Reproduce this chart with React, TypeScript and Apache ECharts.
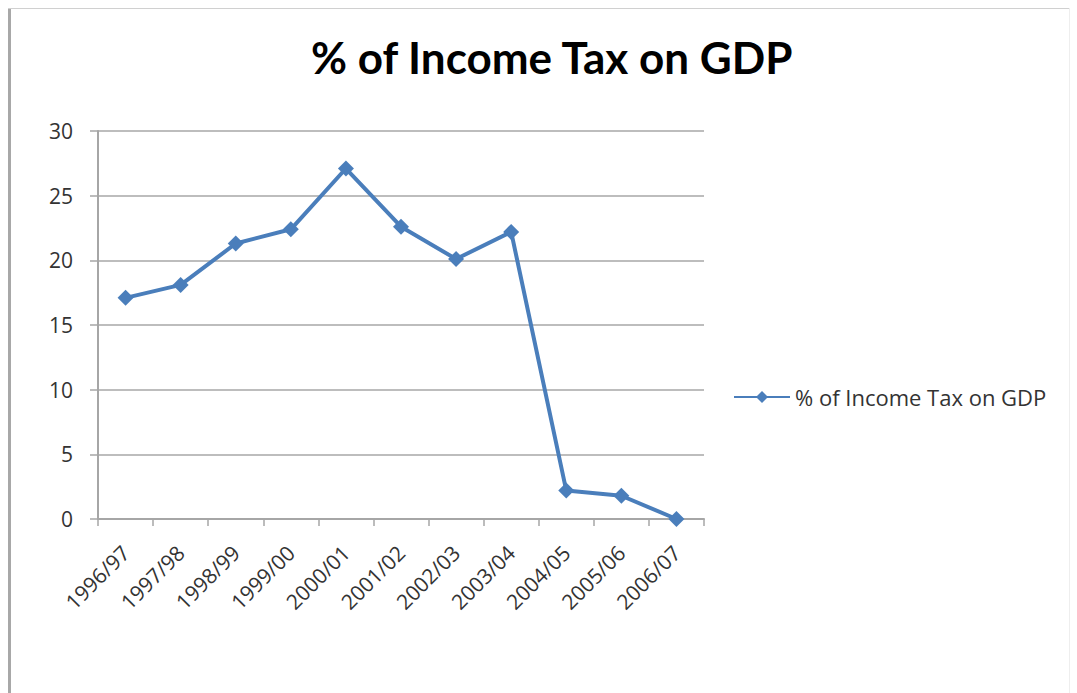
import React, { useEffect, useRef } from "react";
import * as echarts from "echarts";

const categories = ["1996/97", "1997/98", "1998/99", "1999/00", "2000/01", "2001/02", "2002/03", "2003/04", "2004/05", "2005/06", "2006/07"];
const values = [17.1, 18.1, 21.3, 22.4, 27.1, 22.6, 20.1, 22.2, 2.2, 1.8, 0];
const seriesName = "% of Income Tax on GDP";
const chartTitle = "% of Income Tax on GDP";

export default function App() {
  const ref = useRef<HTMLDivElement>(null);
  useEffect(() => {
    if (!ref.current) return;
    const chart = echarts.init(ref.current, null, { renderer: "svg" });
    const font = "'Open Sans', 'Liberation Sans', sans-serif";
    chart.setOption({
      animation: false,
      backgroundColor: "#ffffff",
      title: {
        text: chartTitle,
        left: 306,
        top: 30,
        textStyle: { fontFamily: "Lato, sans-serif", fontSize: 44, fontWeight: "bold", color: "#000" },
      },
      legend: {
        left: 728,
        top: 381,
        itemWidth: 56,
        itemHeight: 15,
        itemGap: 6,
        textStyle: { fontFamily: font, fontSize: 22, color: "#333", padding: [0, 0, 0, 0] },
        data: [seriesName],
      },
      grid: { left: 98, right: 373, top: 131, bottom: 174, containLabel: false },
      xAxis: {
        type: "category",
        data: categories,
        boundaryGap: true,
        axisLine: { lineStyle: { color: "#a6a6a6", width: 2 } },
        axisTick: { show: true, length: 7, lineStyle: { color: "#a6a6a6", width: 1.5 } },
        axisLabel: { rotate: 45, interval: 0, fontFamily: font, fontSize: 21, color: "#333", margin: 30 },
      },
      yAxis: {
        type: "value",
        min: 0,
        max: 30,
        interval: 5,
        axisLine: { show: true, lineStyle: { color: "#a6a6a6", width: 2 } },
        axisTick: { show: true, length: 8, lineStyle: { color: "#a6a6a6", width: 1.5 } },
        axisLabel: { fontFamily: font, fontSize: 21, color: "#333", margin: 25 },
        splitLine: { lineStyle: { color: "#bdbdbd", width: 2 } },
      },
      series: [
        {
          name: seriesName,
          type: "line",
          data: values,
          symbol: "diamond",
          symbolSize: 16,
          itemStyle: { color: "#4a7ebb" },
          lineStyle: { color: "#4a7ebb", width: 4 },
        },
      ],
      graphic: [
        { type: "rect", shape: { x: 8, y: 8, width: 3, height: 685 }, style: { fill: "#a8a8a8" } },
        { type: "rect", shape: { x: 8, y: 8, width: 1062, height: 1 }, style: { fill: "#d0d0d0" } },
        { type: "rect", shape: { x: 1069, y: 8, width: 1, height: 685 }, style: { fill: "#eeeeee" } },
      ],
    });
    return () => chart.dispose();
  }, []);
  return <div ref={ref} style={{ position: "fixed", left: 0, top: 0, width: 1077, height: 693 }} />;
}
